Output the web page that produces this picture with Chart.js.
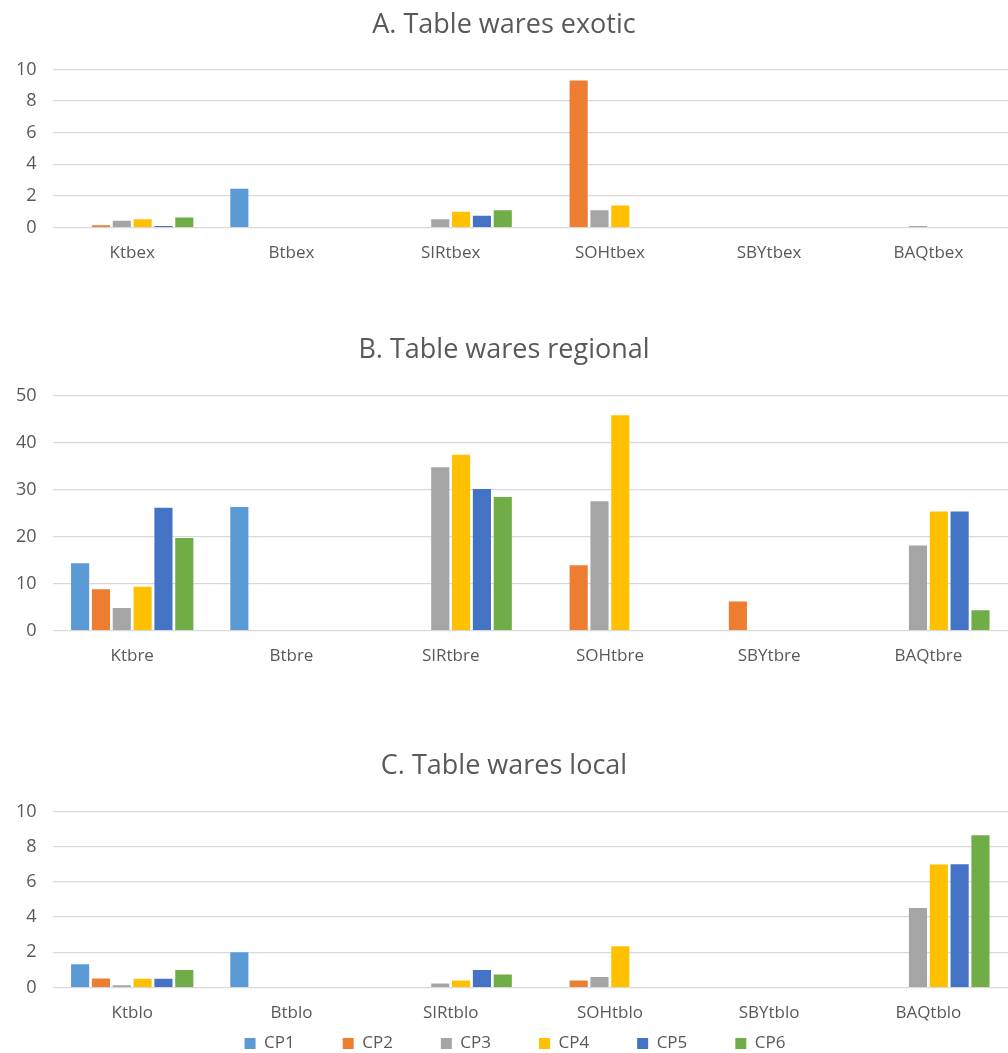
<!DOCTYPE html>
<html>
<head>
<meta charset="utf-8">
<script src="https://cdn.jsdelivr.net/npm/chart.js@4"></script>
<style>
    body { margin: 0; background: #fff; width: 1008px; height: 1053px; overflow: hidden; position: relative; }
    canvas { position: absolute; left: 0; }
</style>
</head>
<body>
<canvas id="chartA" width="1008" height="290" style="top:0px"></canvas>
<canvas id="chartB" width="1008" height="370" style="top:325px"></canvas>
<canvas id="chartC" width="1008" height="300" style="top:741px"></canvas>
<canvas id="legendC" width="1008" height="240" style="top:987px"></canvas>
<script>
/* global Chart */

const seriesNames = ['CP1', 'CP2', 'CP3', 'CP4', 'CP5', 'CP6'];

// A. Table wares exotic
const exoticCategories = ['Ktbex', 'Btbex', 'SIRtbex', 'SOHtbex', 'SBYtbex', 'BAQtbex'];
const exoticCP1 = [0, 2.45, 0, 0, 0, 0];
const exoticCP2 = [0.15, 0, 0, 9.3, 0, 0];
const exoticCP3 = [0.43, 0, 0.53, 1.1, 0, 0.1];
const exoticCP4 = [0.53, 0, 1.0, 1.4, 0, 0];
const exoticCP5 = [0.1, 0, 0.75, 0, 0, 0];
const exoticCP6 = [0.64, 0, 1.1, 0, 0, 0];

// B. Table wares regional
const regionalCategories = ['Ktbre', 'Btbre', 'SIRtbre', 'SOHtbre', 'SBYtbre', 'BAQtbre'];
const regionalCP1 = [14.3, 26.3, 0, 0, 0, 0];
const regionalCP2 = [8.8, 0, 0, 13.9, 6.2, 0];
const regionalCP3 = [4.8, 0, 34.7, 27.5, 0, 18.1];
const regionalCP4 = [9.3, 0, 37.4, 45.8, 0, 25.3];
const regionalCP5 = [26.1, 0, 30.1, 0, 0, 25.3];
const regionalCP6 = [19.7, 0, 28.4, 0, 0, 4.3];

// C. Table wares local
const localCategories = ['Ktblo', 'Btblo', 'SIRtblo', 'SOHtblo', 'SBYtblo', 'BAQtblo'];
const localCP1 = [1.32, 2.0, 0, 0, 0, 0];
const localCP2 = [0.51, 0, 0, 0.41, 0, 0];
const localCP3 = [0.13, 0, 0.23, 0.6, 0, 4.52];
const localCP4 = [0.5, 0, 0.41, 2.34, 0, 6.98];
const localCP5 = [0.5, 0, 1.0, 0, 0, 7.0];
const localCP6 = [1.0, 0, 0.74, 0, 0, 8.64];

const colors = ['#5B9BD5', '#ED7D31', '#A5A5A5', '#FFC000', '#4472C4', '#70AD47'];
const textColor = '#595959';
const fontFamily = '"Open Sans", "Noto Sans", sans-serif';

function makeChart(id, title, categories, series, yMax, step, opts) {
    const ctx = document.getElementById(id);
    return new Chart(ctx, {
        type: 'bar',
        data: {
            labels: categories,
            datasets: series.map((values, i) => ({
                label: seriesNames[i],
                data: values,
                backgroundColor: colors[i],
                borderWidth: 0,
                categoryPercentage: 0.785,
                barPercentage: 0.87
            }))
        },
        options: {
            responsive: false,
            animation: false,
            devicePixelRatio: 1,
            layout: {
                padding: { left: 0, right: 0, top: 0, bottom: opts.padBottom }
            },
            plugins: {
                title: {
                    display: true,
                    text: title,
                    color: textColor,
                    font: { family: fontFamily, size: 27, weight: 'normal' },
                    padding: { top: 9, bottom: opts.titleBottom }
                },
                legend: { display: false },
                tooltip: { enabled: false }
            },
            scales: {
                x: {
                    grid: { display: false, drawTicks: false },
                    border: { display: false },
                    ticks: {
                        color: textColor,
                        font: { family: fontFamily, size: 17 },
                        padding: 15
                    }
                },
                y: {
                    min: 0,
                    max: yMax,
                    grid: { color: '#D9D9D9', lineWidth: 1.3, drawTicks: false },
                    border: { display: false },
                    ticks: {
                        stepSize: step,
                        color: textColor,
                        font: { family: fontFamily, size: 18 },
                        padding: 16
                    }
                }
            }
        }
    });
}

makeChart('chartA', 'A. Table wares exotic', exoticCategories,
    [exoticCP1, exoticCP2, exoticCP3, exoticCP4, exoticCP5, exoticCP6], 10, 2,
    { titleBottom: 28, padBottom: 12 });

makeChart('chartB', 'B. Table wares regional', regionalCategories,
    [regionalCP1, regionalCP2, regionalCP3, regionalCP4, regionalCP5, regionalCP6], 50, 10,
    { titleBottom: 29, padBottom: 14 });

makeChart('chartC', 'C. Table wares local', localCategories,
    [localCP1, localCP2, localCP3, localCP4, localCP5, localCP6], 10, 2,
    { titleBottom: 29, padBottom: 3 });

// Shared series legend drawn under chart C
new Chart(document.getElementById('legendC'), {
    type: 'bar',
    data: {
        labels: [],
        datasets: seriesNames.map((name, i) => ({
            label: name,
            data: [],
            backgroundColor: colors[i],
            borderWidth: 0
        }))
    },
    options: {
        responsive: false,
        animation: false,
        devicePixelRatio: 1,
        layout: { padding: { left: 22 } },
        scales: { x: { display: false }, y: { display: false } },
        plugins: {
            tooltip: { enabled: false },
            legend: {
                display: true,
                position: 'top',
                labels: {
                    color: textColor,
                    font: { family: fontFamily, size: 17 },
                    boxWidth: 11,
                    boxHeight: 11,
                    padding: 48
                }
            }
        }
    }
});
</script>
</body>
</html>
